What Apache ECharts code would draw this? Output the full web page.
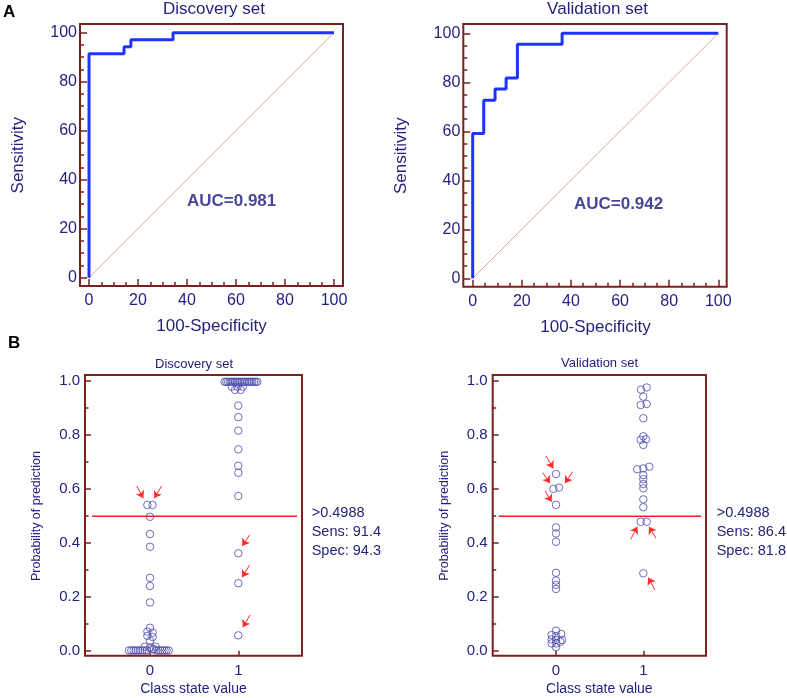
<!DOCTYPE html>
<html><head><meta charset="utf-8">
<script src="https://cdn.jsdelivr.net/npm/echarts@6/dist/echarts.min.js"></script>
<style>html,body{margin:0;padding:0;background:#fff}#c{width:787px;height:698px}</style>
</head><body><div id="c"></div>
<script>
// ---------- data ----------
const rocTicks=[0,20,40,60,80,100];
const probTicks=[0,0.2,0.4,0.6,0.8,1.0];
const classTicks=[0,1];
const panelTitles=['Discovery set','Validation set'];
const aucValues=[0.981,0.942];
const cutoffs=[0.4988,0.4988];
const sensValues=[91.4,86.4];
const specValues=[94.3,81.8];
// ROC operating points: 100-Specificity, Sensitivity
const discFpr=[0,0,14.3,17.1,34.3,100];
const discTpr=[0,91.4,94.3,97.1,100,100];
const valFpr=[0,0,4.5,9.1,13.6,18.2,36.4,100];
const valTpr=[0,59.1,72.7,77.3,81.8,95.5,100,100];
// Dot plots: probability of prediction, and horizontal dodge (class units)
const discClass0Prob=[0.541,0.541,0.497,0.433,0.386,0.271,0.241,0.180,
  0.086,0.072,0.068,0.056,0.052,0.038,0.016,0.013,0.016,0.007,0.007,
  0.002,0.002,0.002,0.002,0.002,0.002,0.002,0.002,0.002,0.002,0.002,0.002,0.002,0.002,0.002,0.002];
const discClass0Dx=[-0.03,0.028,0,0,0,0,0,0,
  0,-0.03,0.03,-0.03,0.03,0,-0.06,0,0.065,0.025,0.045,
  -0.238,-0.212,-0.187,-0.161,-0.136,-0.110,-0.085,-0.059,-0.034,0.072,0.095,0.118,0.142,0.165,0.188,0.212];
const discClass1Prob=[0.997,0.997,0.997,0.997,0.997,0.997,0.997,0.997,0.997,0.997,
  0.997,0.997,0.997,0.997,0.997,0.997,0.997,0.997,0.997,0.997,
  0.979,0.979,0.979,0.967,0.967,
  0.909,0.866,0.816,0.747,0.686,0.660,0.574,
  0.362,0.251,0.058];
const discClass1Dx=[-0.155,-0.135,-0.116,-0.096,-0.077,-0.057,-0.038,-0.018,0.001,0.021,
  0.040,0.060,0.079,0.099,0.118,0.138,0.157,0.177,0.196,0.215,
  -0.075,-0.011,0.05,-0.037,0.027,
  0,0,0,0,0,0,0,
  0,0,0];
const valClass0Prob=[0.655,0.600,0.605,0.541,0.457,0.435,0.404,0.289,0.260,0.244,0.229,
  0.074,0.058,0.062,0.054,0.042,0.040,0.040,0.027,0.027,0.033,0.013];
const valClass0Dx=[0,-0.03,0.035,0,0,0,0,0,0,0,0,
  0,-0.05,0.06,0,-0.05,0,0.07,-0.05,0.005,0.05,0];
const valClass1Prob=[0.968,0.976,0.942,0.911,0.915,0.862,0.795,0.782,0.784,0.763,
  0.673,0.676,0.682,0.651,0.636,0.618,0.602,0.561,0.532,0.478,0.478,0.287];
const valClass1Dx=[-0.026,0.038,0,-0.03,0.038,0,0,-0.03,0.03,0,
  -0.07,0,0.068,0,0,0,0,0,0,-0.03,0.038,0];
// misclassification arrows: [x1,y1,x2,y2] in (class, probability)
const discArrows=[[-0.151,0.611,-0.076,0.566],[0.132,0.611,0.049,0.566],
  [1.128,0.43,1.045,0.389],[1.128,0.319,1.045,0.273],[1.133,0.133,1.05,0.088]];
const valArrows=[[-0.115,0.722,-0.031,0.676],[-0.152,0.66,-0.069,0.621],[0.191,0.664,0.103,0.621],
  [-0.126,0.593,-0.05,0.552],[0.856,0.413,0.931,0.46],[1.145,0.417,1.065,0.46],[1.134,0.225,1.057,0.271]];

// ---------- styling ----------
const FONT="'Liberation Sans', Arial, sans-serif";
const FRAME='#7b1f1f';
const TXT='#23237e';
const DOT='#4b4bab';
const RED='#ee2424';

function gridBox(l,t,w,h){return {left:l,top:t,width:w,height:h,show:false,outerBoundsMode:'none'};}
const grids=[gridBox(89,32.7,245,245),gridBox(472.7,33.3,245.6,245),gridBox(85,381,217,270),gridBox(492.7,381,213.3,269.7)];
const frames=[[80,24,263,262],[463.3,24,263.4,262.7],[85,375,217,280.7],[492.7,375,213.3,280.7]];

const tickLine={color:FRAME,width:1.5};
function rocXAxis(g,off){
  return {type:'value',gridIndex:g,min:rocTicks[0],max:rocTicks[rocTicks.length-1],interval:rocTicks[1]-rocTicks[0],
    position:'bottom',offset:off,axisLine:{show:false,onZero:false},splitLine:{show:false},
    axisTick:{show:true,inside:true,length:7,lineStyle:tickLine},
    minorTick:{show:true,splitNumber:4,length:4,lineStyle:tickLine},
    axisLabel:{show:true,margin:7,color:TXT,fontSize:16,fontFamily:FONT,showMinLabel:true,showMaxLabel:true},
    name:'100-Specificity',nameLocation:'middle',nameGap:32,nameTextStyle:{color:TXT,fontSize:17,fontFamily:FONT}};
}
function rocYAxis(g,off){
  return {type:'value',gridIndex:g,min:rocTicks[0],max:rocTicks[rocTicks.length-1],interval:rocTicks[1]-rocTicks[0],
    position:'left',offset:off,axisLine:{show:false,onZero:false},splitLine:{show:false},
    axisTick:{show:true,inside:true,length:7,lineStyle:tickLine},
    minorTick:{show:true,splitNumber:4,length:4,lineStyle:tickLine},
    axisLabel:{show:true,margin:3,color:TXT,fontSize:16,fontFamily:FONT,showMinLabel:true,showMaxLabel:true},
    name:'Sensitivity',nameLocation:'middle',nameGap:53,nameTextStyle:{color:TXT,fontSize:17,fontFamily:FONT}};
}
function dotXAxis(g,min,max,off){
  return {type:'value',gridIndex:g,min:min,max:max,position:'bottom',offset:off,
    axisLine:{show:false,onZero:false},splitLine:{show:false},
    axisTick:{show:true,inside:true,length:5,customValues:classTicks,lineStyle:tickLine},
    axisLabel:{show:true,customValues:classTicks,margin:8,color:TXT,fontSize:15,fontFamily:FONT},
    name:'Class state value',nameLocation:'middle',nameGap:26,nameTextStyle:{color:TXT,fontSize:14,fontFamily:FONT}};
}
function dotYAxis(g){
  return {type:'value',gridIndex:g,min:probTicks[0],max:probTicks[probTicks.length-1],interval:probTicks[1]-probTicks[0],
    position:'left',axisLine:{show:false,onZero:false},splitLine:{show:false},
    axisTick:{show:true,inside:true,length:6,lineStyle:tickLine},
    minorTick:{show:true,splitNumber:2,length:3.5,lineStyle:tickLine},
    axisLabel:{show:true,margin:5,color:TXT,fontSize:15,fontFamily:FONT,formatter:v=>v.toFixed(1),showMinLabel:true,showMaxLabel:true},
    name:'Probability of prediction',nameLocation:'middle',nameGap:42,nameTextStyle:{color:TXT,fontSize:12.5,fontFamily:FONT}};
}

const xAxes=[rocXAxis(0,8.3),rocXAxis(1,8.4),dotXAxis(2,-0.736,1.721,4.7),dotXAxis(3,-0.725,1.718,5)];
const yAxes=[rocYAxis(0,9),rocYAxis(1,9.4),dotYAxis(2),dotYAxis(3)];

function rocSeries(i,fpr,tpr,auc,lx,ly){
  return [
    {type:'line',xAxisIndex:i,yAxisIndex:i,data:[[0,0],[100,100]],symbol:'none',silent:true,
      lineStyle:{color:'#dba6a0',width:1},z:2},
    {type:'line',xAxisIndex:i,yAxisIndex:i,data:fpr.map((x,k)=>[x,tpr[k]]),step:'end',symbol:'none',silent:true,clip:false,
      lineStyle:{color:'#1f33ff',width:3},z:3},
    {type:'scatter',xAxisIndex:i,yAxisIndex:i,data:[[lx,ly]],symbolSize:0.1,silent:true,
      itemStyle:{color:'transparent'},
      label:{show:true,position:'inside',formatter:'AUC='+auc.toFixed(3),fontWeight:'bold',fontSize:17,color:'#16167a',fontFamily:FONT}}
  ];
}
function dotSeries(i,p0,d0,p1,d1,cut,arrows){
  const pts=p0.map((p,k)=>[classTicks[0]+d0[k],p]).concat(p1.map((p,k)=>[classTicks[1]+d1[k],p]));
  return [
    {type:'line',xAxisIndex:i,yAxisIndex:i,data:[[-0.657,cut],[1.665,cut]],symbol:'none',silent:true,
      lineStyle:{color:RED,width:1.5},z:2},
    {type:'scatter',xAxisIndex:i,yAxisIndex:i,data:pts,symbol:'circle',symbolSize:7.5,silent:true,clip:false,
      itemStyle:{color:'rgba(255,255,255,0)',borderColor:DOT,borderWidth:1},z:3,
      markLine:{silent:true,symbol:['none','arrow'],symbolSize:7,animation:false,
        lineStyle:{color:'#ff2a2a',width:1,type:'solid'},label:{show:false},
        emphasis:{disabled:true},
        data:arrows.map(a=>[{coord:[a[0],a[1]]},{coord:[a[2],a[3]]}])}}
  ];
}

const series=[].concat(
  rocSeries(0,discFpr,discTpr,aucValues[0],58.2,31),
  rocSeries(1,valFpr,valTpr,aucValues[1],59.4,30.3),
  dotSeries(2,discClass0Prob,discClass0Dx,discClass1Prob,discClass1Dx,cutoffs[0],discArrows),
  dotSeries(3,valClass0Prob,valClass0Dx,valClass1Prob,valClass1Dx,cutoffs[1],valArrows)
);

function txt(x,y,text,size,opt){
  opt=opt||{};
  return {type:'text',x:x,y:y,silent:true,z:10,style:{text:text,fill:opt.fill||TXT,
    font:(opt.bold?'bold ':'')+size+'px '+FONT,align:opt.align||'left',verticalAlign:opt.va||'middle',lineHeight:opt.lh}};
}
const graphics=frames.map(f=>({type:'rect',silent:true,z:5,shape:{x:f[0],y:f[1],width:f[2],height:f[3]},
    style:{fill:'none',stroke:FRAME,lineWidth:2}})).concat([
  txt(3,12,'A',17,{bold:true,fill:'#000'}),
  txt(8,343,'B',17,{bold:true,fill:'#000'}),
  txt(214,9,panelTitles[0],17,{align:'center'}),
  txt(597.5,9,panelTitles[1],17,{align:'center'}),
  txt(194,364,panelTitles[0],13,{align:'center'}),
  txt(599.5,363,panelTitles[1],13,{align:'center'}),
  txt(311.7,503,'>'+cutoffs[0]+'\nSens: '+sensValues[0]+'\nSpec: '+specValues[0],14.5,{va:'top',lh:19}),
  txt(716.7,503,'>'+cutoffs[1]+'\nSens: '+sensValues[1]+'\nSpec: '+specValues[1],14.5,{va:'top',lh:19})
]);

const chart=echarts.init(document.getElementById('c'),null,{renderer:'canvas'});
chart.setOption({
  animation:false,
  backgroundColor:'#fff',
  textStyle:{fontFamily:FONT},
  grid:grids,xAxis:xAxes,yAxis:yAxes,series:series,graphic:graphics
});
</script></body></html>
